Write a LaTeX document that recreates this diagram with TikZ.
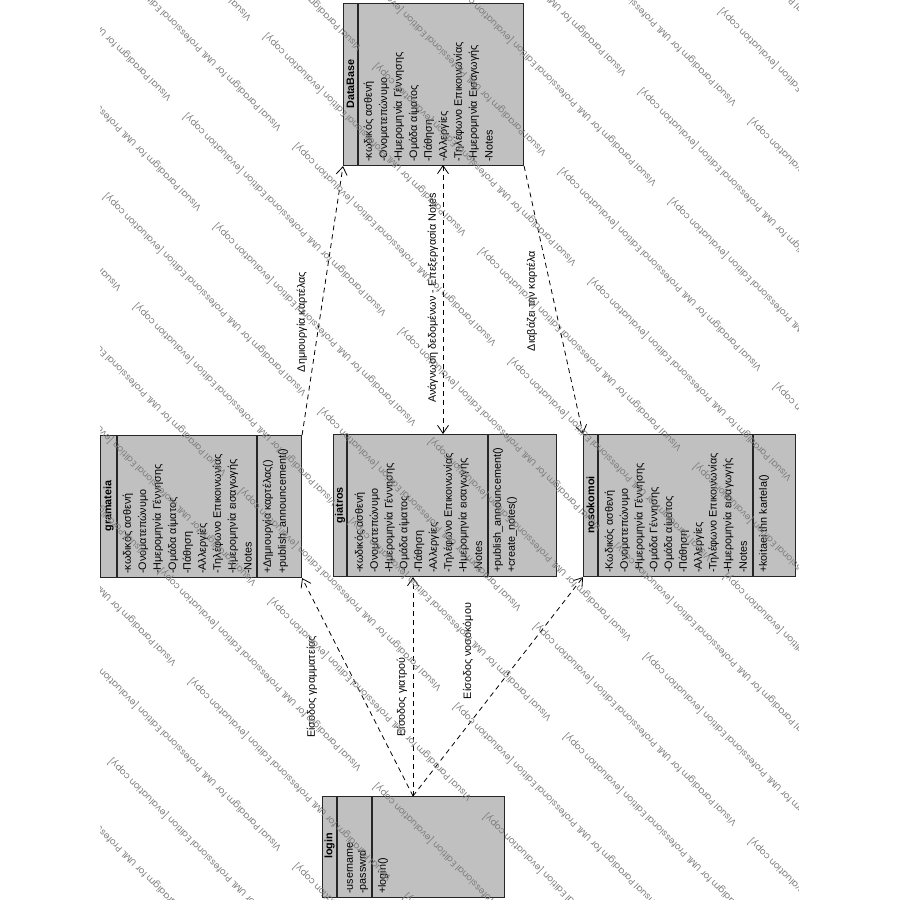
\documentclass[tikz,border=0pt]{standalone}
\usepackage{graphicx}
\usepackage{fontspec}
\setmainfont{Liberation Sans}
\newfontfamily\wmfont{Poppins}
\usetikzlibrary{arrows.meta,calc}
\definecolor{boxgray}{RGB}{192,192,192}
\definecolor{wmgray}{RGB}{125,125,125}
\newcommand\wmtext{\resizebox{283pt}{!}{\wmfont Visual Paradigm for UML Professional Edition [evaluation copy]}}
\begin{document}
\begin{tikzpicture}[x=1pt,y=-1pt,
  classbox/.style={draw=black!85, line width=1.1pt, fill=boxgray, rectangle, inner sep=0pt, anchor=north west},
  sepline/.style={draw=black!85, line width=1.1pt},
  attr/.style={rotate=90, anchor=west, inner sep=0pt, font=\fontsize{10.8}{12}\selectfont},
  cname/.style={rotate=90, inner sep=0pt, font=\bfseries\fontsize{10.8}{12}\selectfont},
  lbl/.style={rotate=90, inner sep=0pt, font=\fontsize{10.8}{12}\selectfont},
  dep/.style={draw=black, line width=0.8pt, dash pattern=on 5pt off 4pt},
  arr/.style={-{Straight Barb[length=8pt,width=11pt]}},
  darr/.style={{Straight Barb[length=8pt,width=11pt]}-{Straight Barb[length=8pt,width=11pt]}},
  wm/.style={rotate=135, anchor=west, inner sep=0pt, text=wmgray}]
\useasboundingbox (0,0) rectangle (900,900);

% ---------- DataBase ----------
\node[classbox, minimum width=180pt, minimum height=162pt] (db) at (343,3) {};
\draw[sepline] ($(db.north west)+(15,0)$) -- ($(db.south west)+(15,0)$);
\node[cname] (dbname) at (350.5,84) {DataBase};
\foreach \t [count=\i from 0] in {-κωδικός ασθενή,-Ονοματεπώνυμο,-Ημερομηνία Γέννησης,-Ομάδα αίματος,-Πάθηση,-Αλλεργίες,-Τηλέφωνο Επικοινωνίας,-Ημερομηνία Εισαγωγής,-Notes}
  \node[attr] (dba\i) at ({369+15*\i},162) {\t};

% ---------- gramateia ----------
\node[classbox, minimum width=201pt, minimum height=142pt] (gram) at (100,435) {};
\draw[sepline] ($(gram.north west)+(17,0)$) -- ($(gram.south west)+(17,0)$);
\draw[sepline] ($(gram.north west)+(157,0)$) -- ($(gram.south west)+(157,0)$);
\node[cname] (gramname) at (108.5,506) {gramateia};
\foreach \t [count=\i from 0] in {-κωδικός ασθενή,-Ονοματεπώνυμο,-Ημερομηνία Γέννησης,-Ομάδα αίματος,-Πάθηση,-Αλλεργίες,-Τηλέφωνο Επικοινωνίας,-Ημερομηνία εισαγωγής,-Notes}
  \node[attr] (grama\i) at ({128+15*\i},574) {\t};
\node[attr] (gramo0) at (268,574) {+Δημιουργία καρτέλας()};
\node[attr] (gramo1) at (283,574) {+publish\_announcement()};

% ---------- giatros ----------
\node[classbox, minimum width=223pt, minimum height=142pt] (giat) at (333,434) {};
\draw[sepline] ($(giat.north west)+(14,0)$) -- ($(giat.south west)+(14,0)$);
\draw[sepline] ($(giat.north west)+(155,0)$) -- ($(giat.south west)+(155,0)$);
\node[cname] (giatname) at (340,505) {giatros};
\foreach \t [count=\i from 0] in {-κωδικός ασθενή,-Ονοματεπώνυμο,-Ημερομηνία Γέννησης,-Ομάδα αίματος,-Πάθηση,-Αλλεργίες,-Τηλέφωνο Επικοινωνίας,-Ημερομηνία εισαγωγής,-Notes}
  \node[attr] (giata\i) at ({360+14.8*\i},573) {\t};
\node[attr] (giato0) at (498,573) {+publish\_announcement()};
\node[attr] (giato1) at (512,573) {+create\_notes()};

% ---------- nosokomoi ----------
\node[classbox, minimum width=212pt, minimum height=142pt] (noso) at (583,434) {};
\draw[sepline] ($(noso.north west)+(15,0)$) -- ($(noso.south west)+(15,0)$);
\draw[sepline] ($(noso.north west)+(170,0)$) -- ($(noso.south west)+(170,0)$);
\node[cname] (nosoname) at (590.5,505) {nosokomoi};
\foreach \t [count=\i from 0] in {-Κωδικός ασθενή,-Ονοματεπώνυμο,-Ημερομηνία Γέννησης,-Ομάδα Γέννησης,-Ομάδα αίματος,-Πάθηση,-Αλλεργίες,-Τηλέφωνο Επικοινωνίας,-Ημερομηνία εισαγωγής,-Notes}
  \node[attr] (nosoa\i) at ({610+14.8*\i},573) {\t};
\node[attr] (nosoo0) at (764,573) {+koitaei thn kartela()};

% ---------- login ----------
\node[classbox, minimum width=182pt, minimum height=101pt] (login) at (322,796) {};
\draw[sepline] ($(login.north west)+(15,0)$) -- ($(login.south west)+(15,0)$);
\draw[sepline] ($(login.north west)+(50,0)$) -- ($(login.south west)+(50,0)$);
\node[cname] (loginname) at (329.5,846) {login};
\node[attr] (logina0) at (350,894) {-username};
\node[attr] (logina1) at (363,894) {-passwrd};
\node[attr] (logino0) at (383,894) {+login()};

% ---------- connectors ----------
\coordinate (dbmid) at (443,165);
\coordinate (logtop) at (413,796);
\draw[dep,arr] (gram.north east) -- (db.south west);
\draw[dep,darr] (dbmid) -- (dbmid |- giat.north);
\draw[dep,arr] (db.south east) -- (noso.north west);
\draw[dep,arr] (logtop) -- (gram.south east);
\draw[dep,arr] (logtop) -- (logtop |- giat.south);
\draw[dep,arr] (logtop) -- (noso.south west);

\node[lbl] (l1) at (302,322) {Δημιουργία καρτέλας};
\node[lbl] (l2) at (433,298) {Ανάγνωση δεδομένων - Επεξεργασία Notes};
\node[lbl] (l3) at (532,301) {Διαβάζει την καρτέλα};
\node[lbl] (l4) at (312,687) {Είσοδος γραμματείας};
\node[lbl] (l5) at (402,697) {Είσοδος γιατρού};
\node[lbl] (l6) at (468,651) {Είσοδος νοσοκόμου};

% ---------- watermark ----------
\begin{scope}
\clip (100,0) rectangle (798,900);
\foreach \j in {-11,...,9}{
  \foreach \k in {0,...,4}{
    \pgfmathsetmacro\uu{70+80*\j}
    \pgfmathsetmacro\vv{340-70*cos(180*\j)+430*\k}
    \node[wm] (wm\j k\k) at ({(\uu+\vv)/2},{(\vv-\uu)/2}) {\wmtext};
  }
}
\end{scope}
\end{tikzpicture}
\end{document}
